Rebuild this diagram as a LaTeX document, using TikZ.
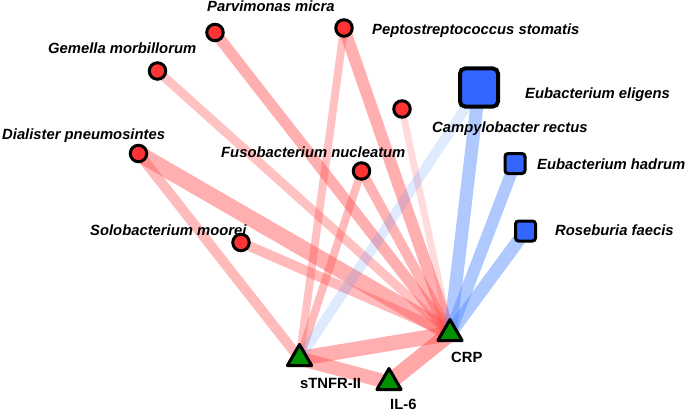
\documentclass[tikz,border=0pt]{standalone}
\usepackage{fontspec}
\setmainfont{Liberation Sans}
\usetikzlibrary{shapes.geometric,backgrounds}

\definecolor{taxred}{HTML}{FF3333}
\definecolor{taxblue}{HTML}{3366FF}
\definecolor{markgreen}{HTML}{009100}
\definecolor{linkred}{HTML}{FF4D4D}
\definecolor{linkblue}{HTML}{4D88FF}

\tikzset{
  redtaxon/.style={circle, draw=black, line width=3pt, fill=taxred, minimum size=16.5pt, inner sep=0pt},
  bluetaxon/.style={rectangle, draw=black, line width=3pt, fill=taxblue, rounded corners=3pt, minimum size=#1, inner sep=0pt},
  marker/.style={regular polygon, regular polygon sides=3, draw=black, line width=3pt, line join=round, fill=markgreen, minimum size=28pt, inner sep=0pt},
  taxlabel/.style={anchor=base west, inner sep=0pt, font=\fontsize{14.8}{16}\selectfont\bfseries\itshape},
  marklabel/.style={anchor=base west, inner sep=0pt, font=\fontsize{14.8}{16}\selectfont\bfseries},
  redlink/.style={draw=linkred, line width=#1, line cap=butt},
  bluelink/.style={draw=linkblue, line width=#1, line cap=butt},
}

\begin{document}
\begin{tikzpicture}[x=1pt, y=-1pt]
  \useasboundingbox (0,0) rectangle (685,412);

  % markers
  \node[marker] (crp) at (450,333.5) {};
  \node[marker] (stnfr) at (299.5,358.5) {};
  \node[marker] (il6) at (389,382.5) {};
  \node[marklabel] (crp-l) at (451,362) {CRP};
  \node[marklabel] (stnfr-l) at (300,388) {sTNFR-II};
  \node[marklabel] (il6-l) at (390,409) {IL-6};

  % taxa
  \node[redtaxon] (parv) at (215,32.5) {};
  \node[redtaxon] (pepto) at (344,28) {};
  \node[redtaxon] (gem) at (157.5,71) {};
  \node[redtaxon] (dial) at (138.5,153.5) {};
  \node[redtaxon] (fuso) at (361.5,171) {};
  \node[redtaxon] (campy) at (402,109) {};
  \node[redtaxon] (solo) at (241,242.5) {};
  \node[bluetaxon=38pt, line width=4pt, rounded corners=5pt] (elig) at (479,87.5) {};
  \node[bluetaxon=20pt] (had) at (515,163.5) {};
  \node[bluetaxon=20pt] (ros) at (525.5,231) {};

  \node[taxlabel] (parv-l) at (207,12) {Parvimonas micra};
  \node[taxlabel] (pepto-l) at (372,35) {Peptostreptococcus stomatis};
  \node[taxlabel] (gem-l) at (48,53) {Gemella morbillorum};
  \node[taxlabel] (dial-l) at (2,139.5) {Dialister pneumosintes};
  \node[taxlabel] (fuso-l) at (221,157) {Fusobacterium nucleatum};
  \node[taxlabel] (campy-l) at (432,132) {Campylobacter rectus};
  \node[taxlabel] (solo-l) at (90,235) {Solobacterium moorei};
  \node[taxlabel] (elig-l) at (525,99) {Eubacterium eligens};
  \node[taxlabel] (had-l) at (537,169) {Eubacterium hadrum};
  \node[taxlabel] (ros-l) at (555,235) {Roseburia faecis};

  \begin{scope}[on background layer]
    % positive correlations
    \draw[redlink=11, draw opacity=.45] (parv.center) -- (crp.center);
    \draw[redlink=12, draw opacity=.45] (pepto.center) -- (crp.center);
    \draw[redlink=8, draw opacity=.35] (pepto.center) -- (stnfr.center);
    \draw[redlink=9, draw opacity=.35] (gem.center) -- (crp.center);
    \draw[redlink=16, draw opacity=.45] (dial.center) -- (crp.center);
    \draw[redlink=10, draw opacity=.38] (dial.center) -- (stnfr.center);
    \draw[redlink=10, draw opacity=.42] (fuso.center) -- (crp.center);
    \draw[redlink=8, draw opacity=.38] (fuso.center) -- (stnfr.center);
    \draw[redlink=10, draw opacity=.38] (solo.center) -- (crp.center);
    \draw[redlink=7, draw opacity=.2] (campy.center) -- (crp.center);
    \draw[redlink=15, draw opacity=.45] (stnfr.center) -- (crp.center);
    \draw[redlink=14, draw opacity=.45] (stnfr.center) -- (il6.center);
    \draw[redlink=16, draw opacity=.5] (il6.center) -- (crp.center);
    % negative correlations
    \draw[bluelink=13, draw opacity=.45] (elig.center) -- (crp.center);
    \draw[bluelink=10, draw opacity=.18] (elig.center) -- (stnfr.center);
    \draw[bluelink=12, draw opacity=.45] (had.center) -- (crp.center);
    \draw[bluelink=13, draw opacity=.45] (ros.center) -- (crp.center);
  \end{scope}
\end{tikzpicture}
\end{document}
